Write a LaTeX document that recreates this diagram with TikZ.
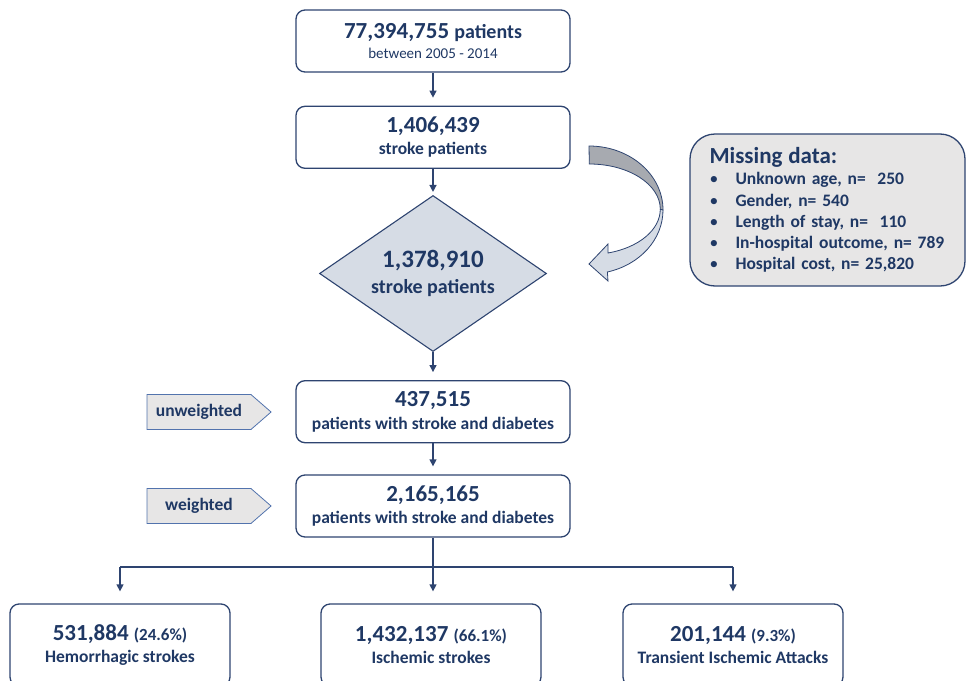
\documentclass[tikz,border=0pt]{standalone}
\usepackage{fontspec}
\setmainfont{Carlito}
\usetikzlibrary{positioning, arrows.meta, shapes.geometric, shapes.symbols}
\definecolor{navy}{HTML}{1F3864}
\definecolor{linenavy}{HTML}{2E4470}
\definecolor{diafill}{HTML}{D6DCE5}
\definecolor{boxgray}{HTML}{E7E6E6}
\definecolor{tagline}{HTML}{5273AD}
\definecolor{backgray}{HTML}{A7AAB0}
\newcommand{\flownum}{\fontsize{23}{26}\selectfont}
\newcommand{\flowlab}{\fontsize{17.5}{21}\selectfont}
\newcommand{\missbul}{\makebox[26pt][l]{\mdseries\textbullet}}
\tikzstyle{stepbox} = [draw=linenavy, line width=1.3pt, rounded corners=9pt,
   minimum width=274pt, minimum height=62pt, align=center, text=navy,
   font=\bfseries]
\tikzstyle{endbox} = [stepbox, minimum width=220pt, minimum height=82pt]
\tikzstyle{decide} = [diamond, aspect=1.455, draw=linenavy, line width=1.1pt,
   fill=diafill, minimum width=227pt, minimum height=156pt, inner sep=0pt,
   align=center, text=navy, font=\bfseries]
\tikzstyle{tag} = [signal, signal to=east, signal from=nowhere,
   signal pointer angle=82, draw=tagline, line width=0.8pt, fill=boxgray,
   minimum width=124pt, minimum height=35pt, text=navy,
   font=\bfseries\flowlab]
\tikzstyle{flow} = [line width=1.3pt, draw=linenavy, shorten >=8pt,
   -{Triangle[length=7pt,width=7pt]}]

\begin{document}
\begin{tikzpicture}[x=1pt, y=-1pt]
  \useasboundingbox (0,0) rectangle (966,680);
  \node[stepbox] (all) at (433,41) {{\flownum 77,394,755 \fontsize{20}{22}\selectfont patients}\\[6pt]
     {\mdseries\fontsize{15}{18}\selectfont between 2005 - 2014}};
  \node[stepbox, below=33pt of all] (stroke) {{\flownum 1,406,439}\\[6pt]{\flowlab stroke patients}};
  \node[decide, below=26pt of stroke] (clean) {{\fontsize{25}{28}\selectfont 1,378,910}\\[7pt]
     {\fontsize{20}{24}\selectfont stroke patients}};
  \node[stepbox, below=28pt of clean] (unw) {{\flownum 437,515}\\[6pt]{\flowlab patients with stroke and diabetes}};
  \node[stepbox, below=31pt of unw] (wgt) {{\flownum 2,165,165}\\[6pt]{\flowlab patients with stroke and diabetes}};
  \node[tag] (tagu) at (199,412) {unweighted};
  \node[tag] (tagw) at (199,506) {weighted};
  \coordinate[below=29pt of wgt] (split);
  \node[endbox] (hem) at (120,645) {{\flownum 531,884 \fontsize{17}{20}\selectfont (24.6\%)}\\[6pt]{\flowlab Hemorrhagic strokes}};
  \node[endbox] (isc) at (431,645) {{\flownum 1,432,137 \fontsize{17}{20}\selectfont (66.1\%)}\\[6pt]{\flowlab Ischemic strokes}};
  \node[endbox] (tia) at (733,645) {{\flownum 201,144 \fontsize{17}{20}\selectfont (9.3\%)}\\[6pt]{\flowlab Transient Ischemic Attacks}};
  % missing data
  \node[draw=linenavy, line width=1.3pt, rounded corners=25pt, fill=boxgray,
     minimum width=275pt, minimum height=152pt, text width=236pt, align=left,
     text=navy, font=\bfseries\fontsize{17.5}{21.3}\selectfont] (miss) at (827.5,210)
     {{\fontsize{23}{26}\selectfont Missing data:}\\
      \missbul Unknown age, n=\ \ 250\\
      \missbul Gender, n= 540\\
      \missbul Length of stay, n=\ \ 110\\
      \missbul In-hospital outcome, n= 789\\
      \missbul Hospital cost, n= 25,820};
  % curved arrow, back and front
  \draw[linenavy, line width=0.8pt, fill=backgray] (589,146)
     arc[start angle=-90, end angle=0, x radius=74, y radius=64] -- (660.3,209.3)
     arc[start angle=0, end angle=-90, x radius=71, y radius=45.3] -- cycle;
  \draw[linenavy, line width=0.8pt, fill=diafill] (663,210)
     arc[start angle=0, end angle=75.6, x radius=74, y radius=64]
     -- (608,281) -- (589,264) -- (608,244) -- (608,253)
     arc[start angle=74.7, end angle=0, x radius=71, y radius=45.3] -- cycle;
  % arrows
  \draw[flow] (all) -- (stroke);
  \draw[flow, shorten >=3pt] (stroke) -- (clean);
  \draw[flow] (clean) -- (unw);
  \draw[flow] (unw) -- (wgt);
  \draw[line width=1.3pt, linenavy] (wgt) -- (split);
  \draw[line width=2pt, linenavy] (split -| hem) -- (split -| tia);
  \draw[flow, shorten >=12pt] (split -| hem) -- (hem);
  \draw[flow, shorten >=12pt] (split) -- (split |- isc.north);
  \draw[flow, shorten >=12pt] (split -| tia) -- (tia);
\end{tikzpicture}
\end{document}
